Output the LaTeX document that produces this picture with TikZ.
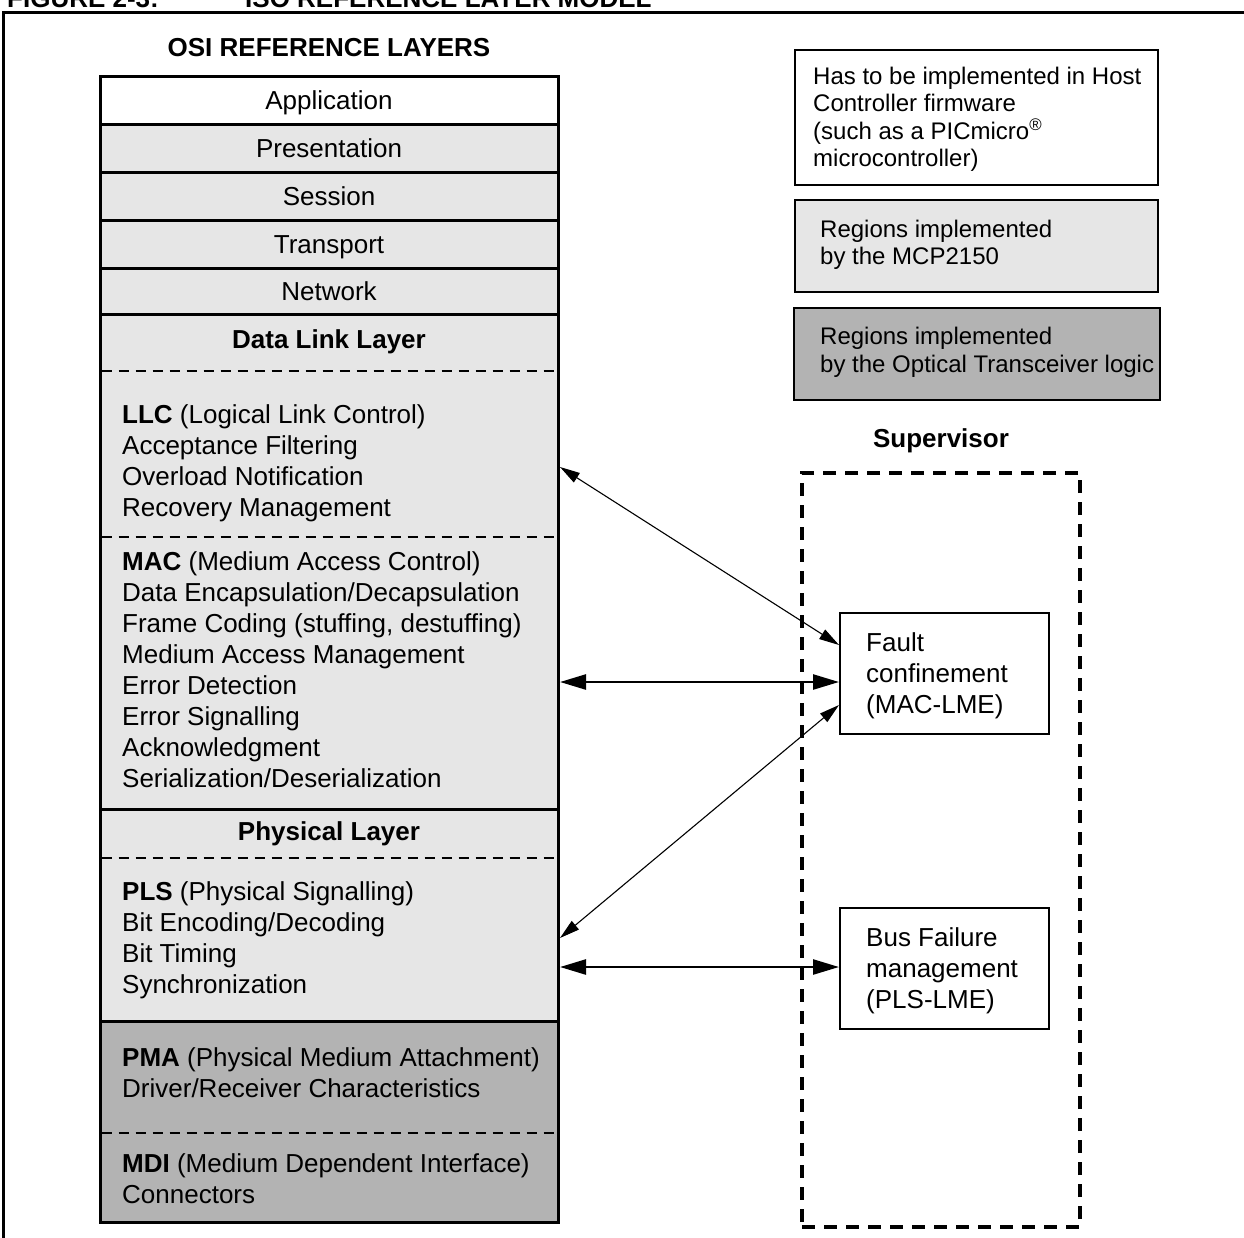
\documentclass[tikz,border=0pt]{standalone}
\usepackage{fontspec}
\setmainfont{Liberation Sans}
\usetikzlibrary{arrows.meta}
\definecolor{lg}{RGB}{230,230,230}
\definecolor{dg}{RGB}{179,179,179}
\begin{document}
\begin{tikzpicture}[x=1pt,y=-1pt,
  txt/.style={font=\fontsize{26}{31}\selectfont, inner sep=0pt},
  btxt/.style={font=\fontsize{26}{31}\selectfont\bfseries, inner sep=0pt},
  ltxt/.style={txt, align=left, anchor=west},
  legtxt/.style={font=\fontsize{24}{27.5}\selectfont, inner sep=0pt, align=left, anchor=west},
  region/.style={draw, line width=3pt, minimum width=458pt, anchor=north west, inner sep=0pt, outer sep=0pt, font=\fontsize{26}{31}\selectfont, text height=19pt, text depth=-5pt},
  sepline/.style={line width=1.8pt, dash pattern=on 10pt off 7pt},
  legbox/.style={draw, line width=1.5pt, minimum width=363pt, anchor=north west, inner sep=0pt, outer sep=0pt},
  mbox/.style={draw, line width=2pt, minimum width=209pt, minimum height=121pt, anchor=north west, inner sep=0pt, outer sep=0pt},
  thinarr/.style={line width=1.1pt, {Triangle[length=20pt,width=11pt]}-{Triangle[length=20pt,width=11pt]}},
  thickarr/.style={line width=2.5pt, {Triangle[length=26pt,width=15pt]}-{Triangle[length=26pt,width=15pt]}},
]
\useasboundingbox (0,0) rectangle (1244,1237);
\fill[white] (0,0) rectangle (1244,1237);

% frame and caption (cut off at the top)
\draw[line width=3pt] (1260,12) -- (3,12) -- (3,1260);
\node[btxt, anchor=base west] (fig) at (7,7) {FIGURE 2-3:};
\node[btxt, anchor=base west] (figt) at (245,7) {ISO REFERENCE LAYER MODEL};

\node[btxt] (osi) at (329,48) {OSI REFERENCE LAYERS};

% stack
\node[region, fill=white, minimum height=48pt] (app) at (100,76) {Application};
\node[region, fill=lg, minimum height=48pt] (pres) at (100,124) {Presentation};
\node[region, fill=lg, minimum height=48pt] (sess) at (100,172) {Session};
\node[region, fill=lg, minimum height=48pt] (trans) at (100,220) {Transport};
\node[region, fill=lg, minimum height=46pt] (net) at (100,268) {Network};
\node[region, fill=lg, minimum height=495pt] (dll) at (100,314) {};
\node[region, fill=lg, minimum height=212pt] (phys) at (100,809) {};
\node[region, fill=dg, minimum height=201pt] (pma) at (100,1021) {};

\draw[sepline] (101.5,371) -- (556.5,371);
\draw[sepline] (101.5,537) -- (556.5,537);
\draw[sepline] (101.5,858) -- (556.5,858);
\draw[sepline] (101.5,1133) -- (556.5,1133);

\node[btxt] (dllt) at (329,342) {Data Link Layer};
\node[ltxt] (llct) at (122,463) {\textbf{LLC} (Logical Link Control)\\Acceptance Filtering\\Overload Notification\\Recovery Management};
\node[ltxt] (mact) at (122,669.5) {\textbf{MAC} (Medium Access Control)\\Data Encapsulation/Decapsulation\\Frame Coding (stuffing, destuffing)\\Medium Access Management\\Error Detection\\Error Signalling\\Acknowledgment\\Serialization/Deserialization};
\node[btxt] (physt) at (329,834) {Physical Layer};
\node[ltxt] (plst) at (122,940) {\textbf{PLS} (Physical Signalling)\\Bit Encoding/Decoding\\Bit Timing\\Synchronization};
\node[ltxt] (pmat) at (122,1072.5) {\textbf{PMA} (Physical Medium Attachment)\\Driver/Receiver Characteristics};
\node[ltxt] (mdit) at (122,1178.5) {\textbf{MDI} (Medium Dependent Interface)\\Connectors};

% legend
\node[legbox, fill=white, minimum height=135pt] (leg1) at (795,50) {};
\node[legtxt] (leg1t) at (813,119.5) {Has to be implemented in Host\\Controller firmware\\(such as a PICmicro\textsuperscript{\textregistered}\\microcontroller)};
\node[legbox, fill=lg, minimum height=92pt] (leg2) at (795,200) {};
\node[legtxt] (leg2t) at (820,245) {Regions implemented\\by the MCP2150};
\node[legbox, fill=dg, minimum height=92pt, minimum width=366pt] (leg3) at (794,308) {};
\node[legtxt] (leg3t) at (820,352.5) {Regions implemented\\by the Optical Transceiver logic};

% supervisor
\node[btxt] (sup) at (941,441) {Supervisor};
\node[draw, line width=3.5pt, dash pattern=on 13pt off 9pt, minimum width=278pt, minimum height=754pt, anchor=north west, inner sep=0pt, outer sep=0pt] (supbox) at (802,473) {};
\node[mbox, fill=white] (fault) at (840,613) {};
\node[ltxt] (faultt) at (866,675.5) {Fault\\confinement\\(MAC-LME)};
\node[mbox, fill=white] (bus) at (840,908) {};
\node[ltxt] (bust) at (866,970.5) {Bus Failure\\management\\(PLS-LME)};

% connectors
\coordinate (llcR) at (560,467);
\coordinate (macR) at (560,682);
\coordinate (plsA) at (560,938);
\coordinate (plsB) at (560,967);
\draw[thinarr] (llcR) -- ([shift={(-1,32)}]fault.north west);
\draw[thickarr] (macR) -- ([shift={(-1,69)}]fault.north west);
\draw[thinarr] (plsA) -- ([shift={(-1,92)}]fault.north west);
\draw[thickarr] (plsB) -- ([shift={(-1,59)}]bus.north west);
\end{tikzpicture}
\end{document}
